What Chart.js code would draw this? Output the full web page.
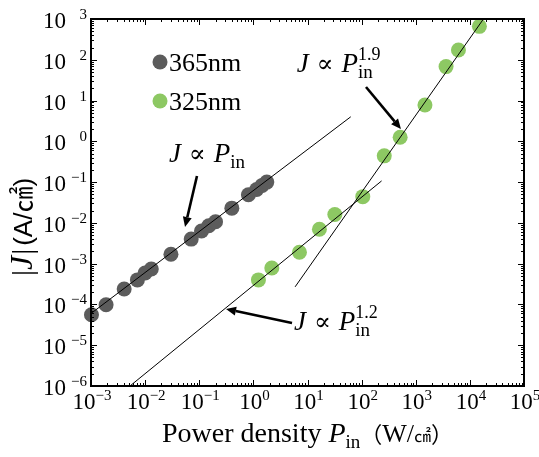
<!DOCTYPE html>
<html>
<head>
<meta charset="utf-8">
<script src="https://cdn.jsdelivr.net/npm/chart.js@4"></script>
<style>
  html, body { margin: 0; padding: 0; background: #fff; }
</style>
</head>
<body>
<canvas id="myChart" width="539" height="457"></canvas>
<script>
// 365 nm excitation: power density (W/cm2) and |J| (A/cm2)
const power365 = [1.02e-3, 1.9e-3, 4.1e-3, 7.2e-3, 1.0e-2, 1.3e-2, 3.0e-2, 7.1e-2, 0.11, 0.15, 0.20, 0.40, 0.81, 1.15, 1.45, 1.77];
const current365 = [5.6e-5, 9.8e-5, 2.4e-4, 4.0e-4, 5.9e-4, 7.4e-4, 1.7e-3, 4.0e-3, 6.3e-3, 8.5e-3, 1.07e-2, 2.3e-2, 4.9e-2, 6.6e-2, 8.3e-2, 0.10];

// 325 nm excitation
const power325 = [1.24, 2.19, 7.1, 16.6, 32, 105, 262, 515, 1480, 3630, 6150, 15000];
const current325 = [4.0e-4, 7.8e-4, 1.9e-3, 7.0e-3, 1.6e-2, 4.4e-2, 0.44, 1.26, 7.8, 68, 174, 660];

// guide lines (end points): J ~ P, J ~ P^1.2, J ~ P^1.9
const guideLinP = [1e-3, 63];
const guideLinJ = [6e-5, 4.0];
const guide12P = [5.25e-3, 234];
const guide12J = [1e-6, 0.107];
const guide19P = [5.9, 17800];
const guide19J = [2.7e-4, 1000];

// decade exponents used for tick labels
const decadesX = [-3, -2, -1, 0, 1, 2, 3, 4, 5];
const decadesY = [-6, -5, -4, -3, -2, -1, 0, 1, 2, 3];

const grey = '#5c5c5c';
const green = '#8dc863';
const serif = '"Liberation Serif", "DejaVu Serif", serif';

const toXY = (xs, ys) => xs.map((v, i) => ({x: v, y: ys[i]}));

// draws a row of text pieces, each with own font and vertical offset
function drawParts(ctx, x, y, parts) {
    let cx = x;
    parts.forEach(p => {
        ctx.font = p.font;
        ctx.fillText(p.t, cx, y + (p.dy || 0));
        const w = ctx.measureText(p.t).width;
        if (!p.stay) cx += w + (p.gap || 0);
    });
    return cx - x;
}
function partsWidth(ctx, parts) {
    let w = 0;
    parts.forEach(p => { ctx.font = p.font; if (!p.stay) w += ctx.measureText(p.t).width + (p.gap || 0); });
    return w;
}
const supText = e => (e < 0 ? '\u2212' : '') + Math.abs(e);

const axesPlugin = {
    id: 'axesPlugin',
    afterDatasetsDraw(chart) {
        const {ctx, chartArea: a, scales: {x, y}} = chart;
        ctx.save();
        ctx.strokeStyle = '#000';
        ctx.fillStyle = '#000';

        // minor + major ticks, pointing inwards
        ctx.lineWidth = 1;
        ctx.beginPath();
        decadesX.forEach(e => {
            for (let m = 1; m < 10; m++) {
                if (e === 5 && m > 1) break;
                const px = Math.round(x.getPixelForValue(m * 10 ** e)) + 0.5;
                const len = m === 1 ? 6 : 3;
                ctx.moveTo(px, a.bottom); ctx.lineTo(px, a.bottom - len);
                ctx.moveTo(px, a.top); ctx.lineTo(px, a.top + len);
            }
        });
        decadesY.forEach(e => {
            for (let m = 1; m < 10; m++) {
                if (e === 3 && m > 1) break;
                const py = Math.round(y.getPixelForValue(m * 10 ** e)) + 0.5;
                const len = m === 1 ? 6 : 3;
                ctx.moveTo(a.left, py); ctx.lineTo(a.left + len, py);
                ctx.moveTo(a.right, py); ctx.lineTo(a.right - len, py);
            }
        });
        ctx.stroke();

        ctx.lineWidth = 2;
        ctx.strokeRect(a.left, a.top, a.right - a.left, a.bottom - a.top);

        // tick labels
        ctx.textBaseline = 'alphabetic';
        decadesY.forEach(e => {
            const py = y.getPixelForValue(10 ** e);
            ctx.textAlign = 'left';
            ctx.font = '23px ' + serif;
            ctx.fillText('10', 43, py + 9);
            ctx.textAlign = 'right';
            ctx.font = '15px ' + serif;
            ctx.fillText(supText(e), 87, py);
        });
        ctx.textAlign = 'left';
        decadesX.forEach(e => {
            const px = x.getPixelForValue(10 ** e);
            const parts = [
                {t: '10', font: '23px ' + serif},
                {t: supText(e), font: '15px ' + serif, dy: -9}
            ];
            const w = partsWidth(ctx, parts);
            drawParts(ctx, px - w / 2 + 1, 409, parts);
        });

        // axis titles
        drawParts(ctx, 162, 442, [
            {t: 'Power density ', font: '28px ' + serif},
            {t: 'P', font: 'italic 28px ' + serif},
            {t: 'in', font: '19px ' + serif, dy: 6},
            {t: '\uFF08', font: '22px "Noto Sans CJK JP"'},
            {t: 'W/', font: '26px ' + serif},
            {t: '\u33A0', font: '17px "Noto Sans CJK JP"'},
            {t: '\uFF09', font: '22px "Noto Sans CJK JP"'}
        ]);
        ctx.save();
        ctx.translate(32, 276);
        ctx.rotate(-Math.PI / 2);
        drawParts(ctx, 0, 0, [
            {t: '|', font: '30px ' + serif},
            {t: 'J', font: 'italic 32px ' + serif, gap: 1},
            {t: '|', font: '30px ' + serif, gap: 3},
            {t: '(A/', font: '26px "Liberation Sans", sans-serif'},
            {t: '\u33A0', font: '26px "Noto Sans CJK JP"'},
            {t: ')', font: '26px "Liberation Sans", sans-serif'}
        ]);
        ctx.restore();

        // legend
        const items = [['365nm', grey, 43], ['325nm', green, 82]];
        items.forEach(([label, col, dy]) => {
            ctx.fillStyle = col;
            ctx.beginPath();
            ctx.arc(a.left + 69, a.top + dy, 7.5, 0, Math.PI * 2);
            ctx.fill();
            ctx.fillStyle = '#000';
            ctx.font = '26px ' + serif;
            ctx.fillText(label, a.left + 78, a.top + dy + 9);
        });

        // annotations placed in data coordinates (log10 P, log10 J)
        const pt = (lp, lj) => [x.getPixelForValue(10 ** lp), y.getPixelForValue(10 ** lj)];
        const arrow = (from, to) => {
            const [x0, y0] = pt(...from), [x1, y1] = pt(...to);
            const ang = Math.atan2(y1 - y0, x1 - x0);
            const hl = 10, hw = 4.5;
            const bx = x1 - hl * Math.cos(ang), by = y1 - hl * Math.sin(ang);
            ctx.lineWidth = 2.6;
            ctx.beginPath();
            ctx.moveTo(x0, y0); ctx.lineTo(bx, by);
            ctx.stroke();
            ctx.beginPath();
            ctx.moveTo(x1, y1);
            ctx.lineTo(bx + hw * Math.sin(ang), by - hw * Math.cos(ang));
            ctx.lineTo(bx - hw * Math.sin(ang), by + hw * Math.cos(ang));
            ctx.closePath();
            ctx.fill();
        };
        const label = (at, exp) => {
            const [lx, ly] = pt(...at);
            const parts = [
                {t: 'J', font: 'italic 27px ' + serif},
                {t: ' \u221D ', font: '25px "DejaVu Serif", serif'},
                {t: 'P', font: 'italic 27px ' + serif},
                {t: 'in', font: '19px ' + serif, dy: 6, stay: !!exp}
            ];
            if (exp) parts.push({t: exp, font: '18px ' + serif, dy: -12});
            drawParts(ctx, lx, ly, parts);
        };
        ctx.fillStyle = '#000';
        label([-1.56, -0.507], null);
        label([0.80, 1.70], '1.9');
        label([0.75, -4.626], '1.2');
        arrow([-1.042, -0.850], [-1.263, -2.101]);
        arrow([2.081, 1.332], [2.727, 0.303]);
        arrow([0.714, -4.455], [-0.506, -4.111]);

        ctx.restore();
    }
};

const ctx = document.getElementById('myChart').getContext('2d');

const chart = new Chart(ctx, {
    type: 'scatter',
    data: {
        datasets: [
            // guide lines first so they sit on top of the markers
            { type: 'line', data: toXY(guideLinP, guideLinJ), borderColor: '#000', borderWidth: 1, pointRadius: 0, order: 0 },
            { type: 'line', data: toXY(guide12P, guide12J), borderColor: '#000', borderWidth: 1, pointRadius: 0, order: 0 },
            { type: 'line', data: toXY(guide19P, guide19J), borderColor: '#000', borderWidth: 1, pointRadius: 0, order: 0 },
            { label: '365nm', data: toXY(power365, current365), backgroundColor: grey, borderWidth: 0, pointRadius: 7.5, order: 1, clip: false },
            { label: '325nm', data: toXY(power325, current325), backgroundColor: green, borderWidth: 0, pointRadius: 7.5, order: 1, clip: false }
        ]
    },
    options: {
        responsive: false,
        animation: false,
        devicePixelRatio: 1,
        layout: { padding: { top: 19, right: 15, left: 0, bottom: 0 } },
        plugins: { legend: { display: false }, tooltip: { enabled: false } },
        scales: {
            x: {
                type: 'logarithmic', min: 1e-3, max: 1e5,
                grid: { display: false }, border: { display: false },
                ticks: { display: false },
                afterFit: s => { s.height = 71; }
            },
            y: {
                type: 'logarithmic', min: 1e-6, max: 1e3,
                grid: { display: false }, border: { display: false },
                ticks: { display: false },
                afterFit: s => { s.width = 91; }
            }
        }
    },
    plugins: [axesPlugin]
});
</script>
</body>
</html>
